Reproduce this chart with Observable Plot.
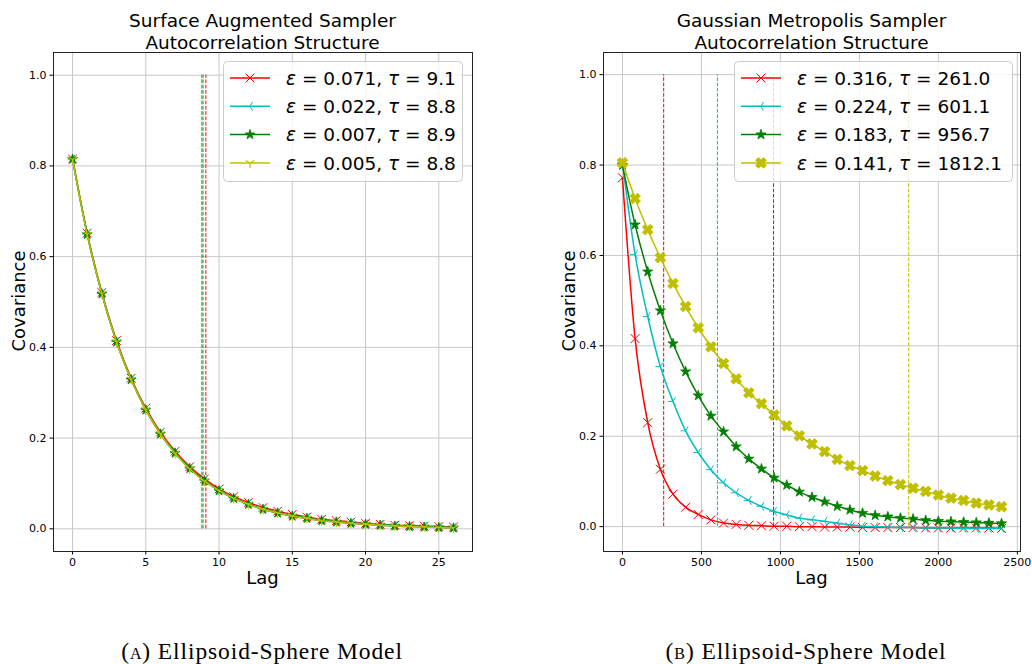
<!DOCTYPE html>
<html><head><meta charset="utf-8">
<script src="https://cdn.jsdelivr.net/npm/d3@7"></script>
<script src="https://cdn.jsdelivr.net/npm/@observablehq/plot@0.6"></script>
<style>
html,body{margin:0;padding:0;background:#fff;overflow:hidden;}
#root{position:relative;width:1032px;height:664px;overflow:hidden;background:#fff;}
</style></head><body><div id="root"></div>
<script>
// ---------- Panel A data (Surface Augmented Sampler) ----------
const lagsA = [0,1,2,3,4,5,6,7,8,9,10,11,12,13,14,15,16,17,18,19,20,21,22,23,24,25,26];
const redA    = [0.815,0.652,0.521,0.415,0.332,0.266,0.213,0.171,0.137,0.110,0.088,0.071,0.058,0.047,0.039,0.032,0.026,0.021,0.018,0.015,0.012,0.010,0.008,0.007,0.006,0.005,0.004];
const cyanA   = [0.815,0.650,0.519,0.413,0.330,0.263,0.210,0.168,0.134,0.107,0.085,0.068,0.055,0.044,0.036,0.029,0.024,0.019,0.016,0.013,0.011,0.009,0.007,0.006,0.005,0.004,0.003];
const greenA  = [0.815,0.649,0.518,0.412,0.329,0.262,0.209,0.167,0.133,0.106,0.084,0.067,0.054,0.043,0.035,0.028,0.023,0.018,0.015,0.012,0.010,0.008,0.006,0.005,0.004,0.003,0.002];
const yellowA = [0.814,0.649,0.518,0.412,0.329,0.262,0.209,0.166,0.132,0.105,0.084,0.067,0.054,0.043,0.035,0.028,0.023,0.018,0.015,0.012,0.010,0.008,0.006,0.005,0.004,0.003,0.002];
const epsA = ["0.071","0.022","0.007","0.005"];
const tauA = ["9.1","8.8","8.9","8.8"];
const xTicksA = [0,5,10,15,20,25];

// ---------- Panel B data (Gaussian Metropolis Sampler) ----------
const lagsB = [0,80,160,240,320,400,480,560,640,720,800,880,960,1040,1120,1200,1280,1360,1440,1520,1600,1680,1760,1840,1920,2000,2080,2160,2240,2320,2400];
const redB    = [0.772,0.416,0.230,0.127,0.072,0.043,0.027,0.015,0.008,0.005,0.003,0.002,0.001,0.001,0.000,0.000,-0.001,-0.001,-0.001,-0.002,-0.002,-0.002,-0.002,-0.002,-0.003,-0.003,-0.003,-0.003,-0.003,-0.003,-0.004];
const cyanB   = [0.805,0.602,0.465,0.354,0.277,0.212,0.164,0.126,0.097,0.075,0.058,0.045,0.034,0.026,0.019,0.015,0.012,0.008,0.004,0.001,0.000,-0.001,-0.002,-0.002,-0.003,-0.003,-0.003,-0.004,-0.004,-0.004,-0.004];
const greenB  = [0.800,0.668,0.564,0.478,0.405,0.343,0.290,0.245,0.210,0.177,0.150,0.128,0.108,0.092,0.077,0.065,0.055,0.045,0.037,0.030,0.025,0.022,0.019,0.017,0.014,0.012,0.011,0.010,0.009,0.008,0.007];
const yellowB = [0.805,0.726,0.657,0.595,0.538,0.487,0.440,0.398,0.361,0.327,0.296,0.272,0.247,0.223,0.201,0.183,0.166,0.149,0.135,0.124,0.112,0.102,0.093,0.085,0.078,0.070,0.063,0.058,0.052,0.048,0.044];
const epsB = ["0.316","0.224","0.183","0.141"];
const tauB = ["261.0","601.1","956.7","1812.1"];
const xTicksB = [0,500,1000,1500,2000,2500];

const yTicks = [0,0.2,0.4,0.6,0.8,1.0];
const titlesA = ["Surface Augmented Sampler","Autocorrelation Structure"];
const titlesB = ["Gaussian Metropolis Sampler","Autocorrelation Structure"];
const captionA = ["(", "a", ") Ellipsoid-Sphere Model"];
const captionB = ["(", "b", ") Ellipsoid-Sphere Model"];

// ---------- marker symbols ----------
const R = s => Math.sqrt(s / Math.PI);
const symX = {draw(c, s){const r=R(s); c.moveTo(-r,-r); c.lineTo(r,r); c.moveTo(-r,r); c.lineTo(r,-r);}};
const symTriLeft = {draw(c, s){const r=R(s); c.moveTo(0,0); c.lineTo(-r,0); c.moveTo(0,0); c.lineTo(r*0.5,-r*0.866); c.moveTo(0,0); c.lineTo(r*0.5,r*0.866);}};
const symTriDown = {draw(c, s){const r=R(s); c.moveTo(0,0); c.lineTo(0,r); c.moveTo(0,0); c.lineTo(-r*0.866,-r*0.5); c.moveTo(0,0); c.lineTo(r*0.866,-r*0.5);}};
const symXFill = {draw(c, s){const r=R(s), a=r*0.36;
  const p=[[-a,-r],[a,-r],[a,-a],[r,-a],[r,a],[a,a],[a,r],[-a,r],[-a,a],[-r,a],[-r,-a],[-a,-a]]
    .map(([x,y])=>[(x-y)/Math.SQRT2,(x+y)/Math.SQRT2]);
  c.moveTo(p[0][0],p[0][1]); for(let i=1;i<p.length;i++) c.lineTo(p[i][0],p[i][1]); c.closePath();}};
const symStar = d3.symbolStar;

const colors = ["#ff0000","#00bfbf","#008000","#bfbf00"];

const styleA = [
  {sym: symX, fill: false, r: 4.3, sw: 1},
  {sym: symTriLeft, fill: false, r: 5, sw: 1},
  {sym: symStar, fill: true, r: 3.1, sw: 0.8},
  {sym: symTriDown, fill: false, r: 5, sw: 1.2}
];
const styleB = [
  {sym: symX, fill: false, r: 4.5, sw: 1},
  {sym: symTriLeft, fill: false, r: 5, sw: 1},
  {sym: symStar, fill: true, r: 3.2, sw: 0.8},
  {sym: symXFill, fill: true, r: 5.6, sw: 0.8}
];

function seriesMarks(lags, vals, tau, color, st, curve){
  const data = lags.map((l,i)=>({lag:l, v:vals[i]}));
  return [
    Plot.line(data, {x:"lag", y:"v", stroke: color, strokeWidth: 1.5, curve}),
    Plot.dot(data, {x:"lag", y:"v", symbol: st.sym, r: st.r, stroke: color, fill: st.fill ? color : "none", strokeWidth: st.sw}),
    Plot.ruleX([tau], {y1: 0, y2: 1, stroke: color, strokeWidth: 1, strokeDasharray: "3.7,1.6"})
  ];
}

function panel(opts){
  const {width, left, mL, mR, xDomain, yDomain, xTicks, lags, series, taus, styles, curve} = opts;
  const marks = [
    Plot.gridX(xTicks, {stroke: "#c8c8c8", strokeOpacity: 1, strokeWidth: 1}),
    Plot.gridY(yTicks, {stroke: "#c8c8c8", strokeOpacity: 1, strokeWidth: 1}),
  ];
  series.forEach((vals,i)=>marks.push(...seriesMarks(lags, vals, taus[i], colors[i], styles[i], curve)));
  marks.push(
    Plot.axisX({ticks: xTicks, tickSize: 3.5, tickPadding: 3.5, label: null, tickFormat: d3.format("d"), fontSize: 11}),
    Plot.axisY({ticks: yTicks, tickSize: 3.5, tickPadding: 3.5, label: null, tickFormat: d3.format(".1f"), fontSize: 11}),
    Plot.frame({stroke: "#222", strokeWidth: 1})
  );
  const svg = Plot.plot({
    width, height: 664,
    marginLeft: mL, marginRight: mR, marginTop: 52, marginBottom: 113,
    x: {domain: xDomain},
    y: {domain: yDomain},
    style: {fontFamily: "DejaVu Sans", fontSize: "11px", color: "black", background: "transparent", overflow: "visible"},
    marks
  });
  svg.style.position = "absolute";
  svg.style.left = left + "px";
  svg.style.top = "0px";
  return svg;
}

const root = document.getElementById("root");
root.appendChild(panel({
  width: 500, left: 0, mL: 53, mR: 28,
  xDomain: [-1.3, 27.3], yDomain: [-0.05, 1.05], xTicks: xTicksA,
  lags: lagsA, series: [redA, cyanA, greenA, yellowA], taus: tauA.map(Number), styles: styleA, curve: "monotone-x"
}));
root.appendChild(panel({
  width: 472, left: 560, mL: 43, mR: 12,
  xDomain: [-120, 2520], yDomain: [-0.055, 1.049], xTicks: xTicksB,
  lags: lagsB, series: [redB, cyanB, greenB, yellowB], taus: tauB.map(Number), styles: styleB, curve: "monotone-x"
}));

// ---------- overlay text & legends ----------
const ov = d3.select(root).append("svg")
  .attr("width", 1032).attr("height", 664)
  .style("position","absolute").style("left","0px").style("top","0px")
  .style("font-family","DejaVu Sans");

function titles(cx, lines){
  lines.forEach((t,i)=>ov.append("text").attr("x",cx).attr("y",27+i*22)
    .attr("text-anchor","middle").attr("font-size","18.5px").text(t));
}
titles(262.5, titlesA);
titles(811.5, titlesB);

function axisLabels(cxLag, xCov){
  ov.append("text").attr("x",cxLag).attr("y",584).attr("text-anchor","middle").attr("font-size","18px").text("Lag");
  ov.append("text").attr("transform",`translate(${xCov},301) rotate(-90)`).attr("text-anchor","middle").attr("font-size","18px").text("Covariance");
}
axisLabels(262.5, 25);
axisLabels(811.5, 575);

function caption(cx, parts){
  const t = ov.append("text").attr("x",cx).attr("y",659).attr("text-anchor","middle")
    .attr("font-family","'Liberation Serif', 'DejaVu Serif', serif").attr("font-size","23.5px")
    .attr("letter-spacing","0.9px");
  t.append("tspan").text(parts[0]);
  t.append("tspan").style("font-variant","small-caps").text(parts[1]);
  t.append("tspan").text(parts[2]);
}
caption(262, captionA);
caption(806, captionB);

function legend(x0, y0, w, eps, taus, styles){
  const g = ov.append("g");
  g.append("rect").attr("x",x0+0.5).attr("y",y0+0.5).attr("width",w).attr("height",120).attr("rx",4)
    .attr("fill","white").attr("fill-opacity",0.8).attr("stroke","#cccccc");
  eps.forEach((e,i)=>{
    const cy = 78 + i*28.3;
    const st = styles[i], col = colors[i];
    g.append("line").attr("x1",x0+7).attr("x2",x0+47).attr("y1",cy).attr("y2",cy).attr("stroke",col).attr("stroke-width",1.5);
    g.append("path").attr("transform",`translate(${x0+27},${cy})`)
      .attr("d", d3.symbol(st.sym, Math.PI*st.r*st.r)())
      .attr("fill", st.fill ? col : "none").attr("stroke", col).attr("stroke-width", st.sw);
    const t = g.append("text").attr("x",x0+63).attr("y",cy+6.7).attr("font-size","18.5px");
    t.append("tspan").attr("font-style","italic").text("ε");
    t.append("tspan").text(" = " + e + ", ");
    t.append("tspan").attr("font-style","italic").text("τ");
    t.append("tspan").text(" = " + taus[i]);
  });
}
legend(223, 61, 239, epsA, tauA, styleA);
legend(734, 61, 278, epsB, tauB, styleB);
</script></body></html>
